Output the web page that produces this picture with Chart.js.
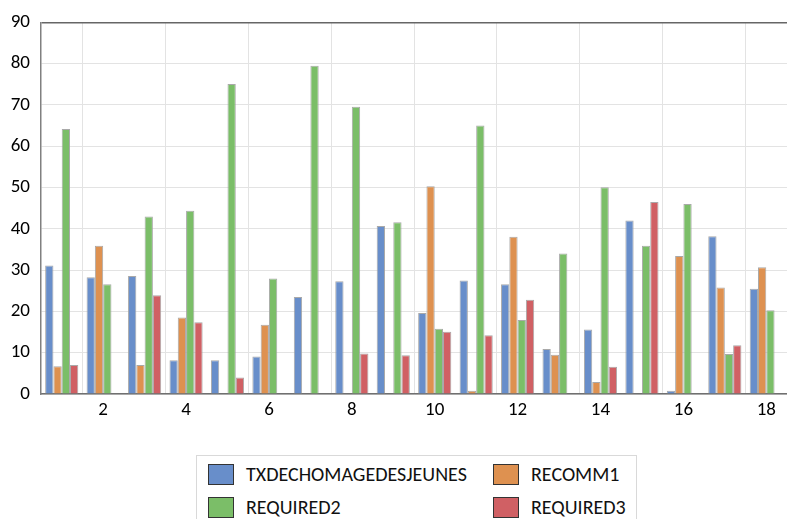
<!DOCTYPE html>
<html>
<head>
<meta charset="utf-8">
<script src="https://cdn.jsdelivr.net/npm/chart.js@4.4.0/dist/chart.umd.min.js"></script>
<style>
  html, body { margin: 0; padding: 0; background: #fff; }
  #wrap { position: relative; width: 787px; height: 519px; overflow: hidden; }
  #legend {
    position: absolute; left: 196px; top: 455px; width: 441px; height: 80px;
    border: 1px solid #d9d9d9; box-sizing: border-box;
    font-family: Carlito, Lato, sans-serif; font-size: 20px; color: #111;
  }
  .item { position: absolute; display: flex; align-items: center; }
  .swatch { width: 24px; height: 19px; border: 1px solid #333; margin-right: 12px; }
</style>
</head>
<body>
<div id="wrap">
  <canvas id="chart" width="787" height="440"></canvas>
  <div id="legend"></div>
</div>
<script>
document.addEventListener('DOMContentLoaded', function() {

// données
const categories = ['1','2','3','4','5','6','7','8','9','10','11','12','13','14','15','16','17','18'];
const seriesNames = ['TXDECHOMAGEDESJEUNES', 'RECOMM1', 'REQUIRED2', 'REQUIRED3'];
const txChomage = [31.1, 28.3, 28.6, 8.2, 8.2, 9.1, 23.5, 27.3, 40.7, 19.6, 27.5, 26.6, 10.9, 15.6, 42.0, 0.8, 38.2, 25.5];
const recomm1   = [6.7, 35.9, 7.0, 18.5, null, 16.8, null, null, null, 50.3, 0.8, 38.1, 9.5, 2.9, null, 33.4, 25.8, 30.7];
const required2 = [64.2, 26.6, 43.0, 44.4, 75.1, 28.0, 79.5, 69.6, 41.6, 15.8, 65.0, 17.9, 34.0, 50.1, 35.9, 46.0, 9.7, 20.3];
const required3 = [7.0, null, 23.9, 17.4, 4.0, null, null, 9.8, 9.4, 15.1, 14.2, 22.8, null, 6.6, 46.5, null, 11.8, null];
const yTicks = [0, 10, 20, 30, 40, 50, 60, 70, 80, 90];

const colors = ['rgb(104,142,202)', 'rgb(222,145,80)', 'rgb(123,190,104)', 'rgb(208,96,100)'];
const allData = [txChomage, recomm1, required2, required3];

const font = { family: 'Carlito, Lato, sans-serif', size: 19 };

const chart = new Chart(document.getElementById('chart'), {
    type: 'bar',
    data: {
        labels: categories,
        datasets: seriesNames.map((name, i) => ({
            label: name,
            data: allData[i],
            backgroundColor: colors[i],
            borderColor: 'rgba(160,160,160,0.9)',
            borderWidth: 1,
            categoryPercentage: 0.8,
            barPercentage: 1.0
        }))
    },
    options: {
        responsive: false,
        animation: false,
        layout: { padding: { top: 20, right: 0, left: 0, bottom: 0 } },
        plugins: {
            legend: { display: false },
            tooltip: { enabled: false }
        },
        scales: {
            x: {
                offset: true,
                grid: {
                    offset: true,
                    drawTicks: false,
                    color: (c) => (c.index % 2 === 1 ? '#e3e3e3' : 'rgba(0,0,0,0)'),
                    lineWidth: 1
                },
                border: { color: '#707070', width: 1.5 },
                ticks: {
                    autoSkip: false,
                    maxRotation: 0,
                    padding: 5,
                    color: '#000',
                    font: font,
                    callback: function(v, i) { return i % 2 === 1 ? categories[i] : ''; }
                },
                afterFit: function(s) { s.height = 46; }
            },
            y: {
                min: 0,
                max: 90,
                afterBuildTicks: function(s) { s.ticks = yTicks.map(v => ({ value: v })); },
                grid: {
                    drawTicks: false,
                    color: (c) => (c.index === yTicks.length - 1 ? '#666' : '#e3e3e3'),
                    lineWidth: (c) => (c.index === yTicks.length - 1 ? 1.5 : 1)
                },
                border: { color: '#808080', width: 1.5 },
                ticks: { padding: 11, color: '#000', font: font },
                afterFit: function(s) { s.width = 41; }
            }
        }
    }
});

// légende en HTML, deux colonnes
const legend = document.getElementById('legend');
const pos = [[11, 6], [296, 6], [11, 39], [296, 39]];
chart.data.datasets.forEach(function(ds, i) {
    const item = document.createElement('div');
    item.className = 'item';
    item.style.left = pos[i][0] + 'px';
    item.style.top = pos[i][1] + 'px';
    const sw = document.createElement('span');
    sw.className = 'swatch';
    sw.style.background = ds.backgroundColor;
    const txt = document.createElement('span');
    txt.textContent = ds.label;
    item.appendChild(sw);
    item.appendChild(txt);
    legend.appendChild(item);
});

});
</script>
</body>
</html>
